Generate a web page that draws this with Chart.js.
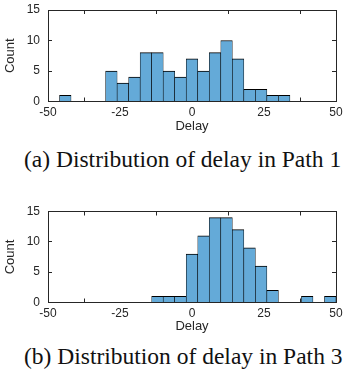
<!DOCTYPE html>
<html><head><meta charset="utf-8">
<script src="https://cdn.jsdelivr.net/npm/chart.js@4/dist/chart.umd.min.js"></script>
<style>
html,body{margin:0;padding:0;background:#fff;width:345px;height:377px;overflow:hidden;position:relative;}
canvas{position:absolute;left:0;}
#c1{top:0px}
#c2{top:200px}
.cap{position:absolute;font-family:"Liberation Serif","Times New Roman",serif;font-size:23.5px;color:#111;white-space:nowrap;line-height:1;}
</style></head><body>
<canvas id="c1" width="345" height="136"></canvas>
<div class="cap" id="cap1" style="top:148px;left:24px"></div>
<canvas id="c2" width="345" height="136"></canvas>
<div class="cap" id="cap2" style="top:345px;left:24px"></div>
<script>
// Bin centres (bin width 4) and counts
const path1Centers = [-44,-40,-36,-32,-28,-24,-20,-16,-12,-8,-4,0,4,8,12,16,20,24,28,32];
const path1Counts  = [1,0,0,0,5,3,4,8,8,5,4,7,5,8,10,7,2,2,1,1];
const path3Centers = [-12,-8,-4,0,4,8,12,16,20,24,28,32,36,40,44,48];
const path3Counts  = [1,1,1,8,11,14,14,12,9,6,2,0,0,1,0,1];
const xTickValues = [-50,-25,0,25,50];
const yTickValues = [0,5,10,15];
const xTitle = 'Delay';
const yTitle = 'Count';
const captions = ['(a) Distribution of delay in Path 1','(b) Distribution of delay in Path 3'];

document.getElementById('cap1').textContent = captions[0];
document.getElementById('cap2').textContent = captions[1];

const AX = '#262626';
const BAR = 'rgb(100,170,216)';

function noPad(s){ s.paddingLeft = 0; s.paddingRight = 0; s.paddingTop = 0; s.paddingBottom = 0; }

function makeChart(id, centers, counts, topH, bottomH) {
  const data = centers.map((c,i)=>({x:c, y:counts[i]}));
  const gridCfg = {display:true, drawOnChartArea:false, drawTicks:true, tickLength:-4, color:AX, lineWidth:1};
  const borderCfg = {display:true, color:AX, width:1};
  const tickFont = {family:'"Liberation Sans", Arial, sans-serif', size:12};
  const titleFont = {family:'"Liberation Sans", Arial, sans-serif', size:13};
  return new Chart(document.getElementById(id), {
    type:'bar',
    data:{datasets:[{data, backgroundColor:BAR, borderColor:'#000', borderWidth:{top:1,left:0.6,right:0.6,bottom:0}, borderSkipped:false, barPercentage:1, categoryPercentage:1, grouped:false}]},
    options:{
      responsive:false, animation:false, devicePixelRatio:1,
      layout:{padding:0},
      plugins:{legend:{display:false}, tooltip:{enabled:false}},
      scales:{
        x:{type:'linear', axis:'x', position:'bottom', min:-50, max:50, offset:false,
           afterBuildTicks:s=>{s.ticks = xTickValues.map(v=>({value:v}));},
           grid:gridCfg, border:borderCfg,
           ticks:{color:AX, font:tickFont, padding:8, maxRotation:0, autoSkip:false},
           title:{display:true, text:xTitle, color:AX, font:titleFont, padding:{top:0,bottom:2}},
           afterFit:s=>{s.height = bottomH; noPad(s);}},
        x2:{type:'linear', axis:'x', position:'top', min:-50, max:50, offset:false,
           afterBuildTicks:s=>{s.ticks = xTickValues.map(v=>({value:v}));},
           grid:gridCfg, border:borderCfg, ticks:{display:false},
           afterFit:s=>{s.height = topH; noPad(s);}},
        y:{type:'linear', axis:'y', position:'left', min:0, max:15,
           afterBuildTicks:s=>{s.ticks = yTickValues.map(v=>({value:v}));},
           grid:gridCfg, border:borderCfg,
           ticks:{color:AX, font:tickFont, padding:12},
           title:{display:true, text:yTitle, color:AX, font:titleFont, padding:{top:3,bottom:0}},
           afterFit:s=>{s.width = 48; noPad(s);}},
        y2:{type:'linear', axis:'y', position:'right', min:0, max:15,
           afterBuildTicks:s=>{s.ticks = yTickValues.map(v=>({value:v}));},
           grid:gridCfg, border:borderCfg, ticks:{display:false},
           afterFit:s=>{s.width = 9; noPad(s);}}
      }
    }
  });
}
makeChart('c1', path1Centers, path1Counts, 10, 34.5);
makeChart('c2', path3Centers, path3Counts, 11.5, 33.5);
</script>
</body></html>
